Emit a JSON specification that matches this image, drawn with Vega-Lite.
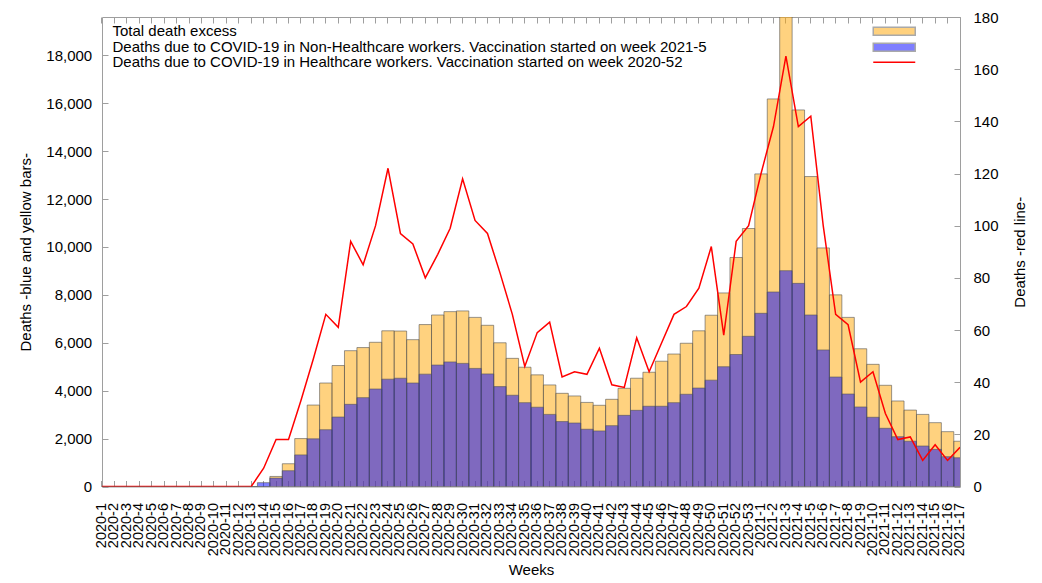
{
  "$schema": "https://vega.github.io/schema/vega-lite/v6.json",
  "width": 858,
  "height": 469.5,
  "autosize": {"type": "none"},
  "padding": {"left": 102, "top": 17, "right": 82, "bottom": 96.5},
  "background": "white",
  "config": {
    "font": "Liberation Sans",
    "view": {"stroke": "#9e9e9e", "strokeWidth": 1},
    "axis": {
      "domain": false,
      "grid": false,
      "tickColor": "#9e9e9e",
      "tickSize": -6,
      "labelColor": "#000000",
      "titleColor": "#000000",
      "labelFont": "Liberation Sans",
      "titleFont": "Liberation Sans",
      "labelFontSize": 15,
      "titleFontSize": 15,
      "titleFontWeight": "normal"
    },
    "legend": {
      "labelFont": "Liberation Sans",
      "labelFontSize": 15,
      "labelColor": "#000000",
      "labelLimit": 1000,
      "padding": 0,
      "rowPadding": 0,
      "symbolSize": 196,
      "symbolStrokeWidth": 1.5
    }
  },
  "data": {
    "values": [
      {"week": "2020-1", "total": 0, "nonhc": 0, "hc": 0},
      {"week": "2020-2", "total": 0, "nonhc": 0, "hc": 0},
      {"week": "2020-3", "total": 0, "nonhc": 0, "hc": 0},
      {"week": "2020-4", "total": 0, "nonhc": 0, "hc": 0},
      {"week": "2020-5", "total": 0, "nonhc": 0, "hc": 0},
      {"week": "2020-6", "total": 0, "nonhc": 0, "hc": 0},
      {"week": "2020-7", "total": 0, "nonhc": 0, "hc": 0},
      {"week": "2020-8", "total": 0, "nonhc": 0, "hc": 0},
      {"week": "2020-9", "total": 0, "nonhc": 0, "hc": 0},
      {"week": "2020-10", "total": 0, "nonhc": 0, "hc": 0},
      {"week": "2020-11", "total": 0, "nonhc": 0, "hc": 0},
      {"week": "2020-12", "total": 0, "nonhc": 0, "hc": 0},
      {"week": "2020-13", "total": 0, "nonhc": 0, "hc": 0},
      {"week": "2020-14", "total": 0, "nonhc": 160, "hc": 7},
      {"week": "2020-15", "total": 420, "nonhc": 350, "hc": 18},
      {"week": "2020-16", "total": 950, "nonhc": 660, "hc": 18},
      {"week": "2020-17", "total": 2000, "nonhc": 1320, "hc": 33},
      {"week": "2020-18", "total": 3400, "nonhc": 1990, "hc": 49},
      {"week": "2020-19", "total": 4320, "nonhc": 2370, "hc": 66},
      {"week": "2020-20", "total": 5050, "nonhc": 2900, "hc": 61},
      {"week": "2020-21", "total": 5670, "nonhc": 3430, "hc": 94},
      {"week": "2020-22", "total": 5800, "nonhc": 3710, "hc": 85},
      {"week": "2020-23", "total": 6020, "nonhc": 4070, "hc": 100},
      {"week": "2020-24", "total": 6500, "nonhc": 4480, "hc": 122},
      {"week": "2020-25", "total": 6490, "nonhc": 4520, "hc": 97},
      {"week": "2020-26", "total": 6130, "nonhc": 4320, "hc": 93},
      {"week": "2020-27", "total": 6760, "nonhc": 4690, "hc": 80},
      {"week": "2020-28", "total": 7160, "nonhc": 5070, "hc": 89},
      {"week": "2020-29", "total": 7300, "nonhc": 5200, "hc": 99},
      {"week": "2020-30", "total": 7330, "nonhc": 5140, "hc": 118},
      {"week": "2020-31", "total": 7060, "nonhc": 4930, "hc": 102},
      {"week": "2020-32", "total": 6730, "nonhc": 4700, "hc": 97},
      {"week": "2020-33", "total": 6000, "nonhc": 4170, "hc": 82},
      {"week": "2020-34", "total": 5350, "nonhc": 3810, "hc": 66},
      {"week": "2020-35", "total": 4980, "nonhc": 3500, "hc": 46},
      {"week": "2020-36", "total": 4660, "nonhc": 3310, "hc": 59},
      {"week": "2020-37", "total": 4240, "nonhc": 3010, "hc": 63},
      {"week": "2020-38", "total": 3890, "nonhc": 2710, "hc": 42},
      {"week": "2020-39", "total": 3780, "nonhc": 2650, "hc": 44},
      {"week": "2020-40", "total": 3510, "nonhc": 2390, "hc": 43},
      {"week": "2020-41", "total": 3390, "nonhc": 2320, "hc": 53},
      {"week": "2020-42", "total": 3640, "nonhc": 2540, "hc": 39},
      {"week": "2020-43", "total": 4100, "nonhc": 2970, "hc": 38},
      {"week": "2020-44", "total": 4520, "nonhc": 3180, "hc": 57},
      {"week": "2020-45", "total": 4770, "nonhc": 3350, "hc": 44},
      {"week": "2020-46", "total": 5230, "nonhc": 3350, "hc": 55},
      {"week": "2020-47", "total": 5530, "nonhc": 3500, "hc": 66},
      {"week": "2020-48", "total": 5980, "nonhc": 3850, "hc": 69},
      {"week": "2020-49", "total": 6500, "nonhc": 4110, "hc": 76},
      {"week": "2020-50", "total": 7150, "nonhc": 4440, "hc": 92},
      {"week": "2020-51", "total": 8080, "nonhc": 5000, "hc": 58},
      {"week": "2020-52", "total": 9560, "nonhc": 5510, "hc": 94},
      {"week": "2020-53", "total": 10770, "nonhc": 6270, "hc": 100},
      {"week": "2021-1", "total": 13050, "nonhc": 7230, "hc": 120},
      {"week": "2021-2", "total": 16180, "nonhc": 8120, "hc": 138},
      {"week": "2021-3", "total": 20300, "nonhc": 9010, "hc": 165},
      {"week": "2021-4", "total": 15720, "nonhc": 8480, "hc": 138},
      {"week": "2021-5", "total": 12940, "nonhc": 7160, "hc": 142},
      {"week": "2021-6", "total": 9960, "nonhc": 5700, "hc": 100},
      {"week": "2021-7", "total": 8000, "nonhc": 4570, "hc": 66},
      {"week": "2021-8", "total": 7060, "nonhc": 3860, "hc": 62},
      {"week": "2021-9", "total": 5750, "nonhc": 3320, "hc": 40},
      {"week": "2021-10", "total": 5100, "nonhc": 2890, "hc": 44},
      {"week": "2021-11", "total": 4225, "nonhc": 2430, "hc": 28},
      {"week": "2021-12", "total": 3570, "nonhc": 2080, "hc": 18},
      {"week": "2021-13", "total": 3190, "nonhc": 1890, "hc": 19},
      {"week": "2021-14", "total": 3010, "nonhc": 1690, "hc": 10},
      {"week": "2021-15", "total": 2665, "nonhc": 1550, "hc": 16},
      {"week": "2021-16", "total": 2290, "nonhc": 1245, "hc": 10},
      {"week": "2021-17", "total": 1890, "nonhc": 1200, "hc": 15}
    ]
  },
  "layer": [
    {
      "layer": [
        {
          "mark": {"type": "bar", "fillOpacity": 0.5, "stroke": "#555555", "strokeOpacity": 0.6, "strokeWidth": 1, "clip": true},
          "encoding": {
            "x": {
              "field": "week", "type": "ordinal", "sort": null,
              "scale": {"range": [-6.22, 864.22], "paddingInner": 0, "paddingOuter": 0},
              "axis": {"title": "Weeks", "labelAngle": -90, "labelFontSize": 14.5, "labelPadding": 22, "labelOverlap": false, "titlePadding": 7}
            },
            "y": {
              "field": "total", "type": "quantitative",
              "scale": {"domain": [0, 19600], "nice": false},
              "axis": {"title": "Deaths -blue and yellow bars-", "values": [0, 2000, 4000, 6000, 8000, 10000, 12000, 14000, 16000, 18000], "format": ",.0f", "labelPadding": 16.3, "titlePadding": 12}
            },
            "fill": {
              "datum": "Total death excess", "type": "nominal",
              "scale": {
                "domain": ["Total death excess", "Deaths due to COVID-19 in Non-Healthcare workers. Vaccination started on week 2021-5"],
                "range": ["#ffa500", "#0000ff"]
              },
              "legend": {
                "orient": "none", "legendX": 784.25, "legendY": 6.25, "title": null,
                "labelOffset": -789.75,
                "symbolType": "M-3,-0.571H3V0.571H-3Z",
                "symbolOpacity": 0.5
              }
            }
          }
        },
        {
          "mark": {"type": "bar", "fillOpacity": 0.5, "stroke": "#555555", "strokeOpacity": 0.6, "strokeWidth": 1, "clip": true},
          "encoding": {
            "x": {"field": "week", "type": "ordinal", "sort": null},
            "y": {"field": "nonhc", "type": "quantitative", "axis": {"title": "Deaths -blue and yellow bars-"}},
            "fill": {"datum": "Deaths due to COVID-19 in Non-Healthcare workers. Vaccination started on week 2021-5", "type": "nominal"}
          }
        }
      ]
    },
    {
      "mark": {"type": "line", "strokeWidth": 1.5, "clip": true},
      "encoding": {
        "x": {
          "field": "week", "type": "ordinal", "sort": null,
          "axis": {"orient": "top", "labels": false, "title": null}
        },
        "y": {
          "field": "hc", "type": "quantitative",
          "scale": {"domain": [0, 180], "nice": false},
          "axis": {"orient": "right", "title": "Deaths -red line-", "values": [0, 20, 40, 60, 80, 100, 120, 140, 160, 180], "labelPadding": 19, "titleAngle": 270, "titleBaseline": "top", "titlePadding": 14}
        },
        "stroke": {
          "datum": "Deaths due to COVID-19 in Healthcare workers. Vaccination started on week 2020-52", "type": "nominal",
          "scale": {"range": ["#ff0000"]},
          "legend": {
            "orient": "none", "legendX": 784.25, "legendY": 37.25, "title": null,
            "labelOffset": -789.75,
            "symbolType": "M-3,0H3",
            "symbolStrokeWidth": 1.5
          }
        }
      }
    }
  ],
  "resolve": {"scale": {"y": "independent"}, "axis": {"x": "independent"}}
}
